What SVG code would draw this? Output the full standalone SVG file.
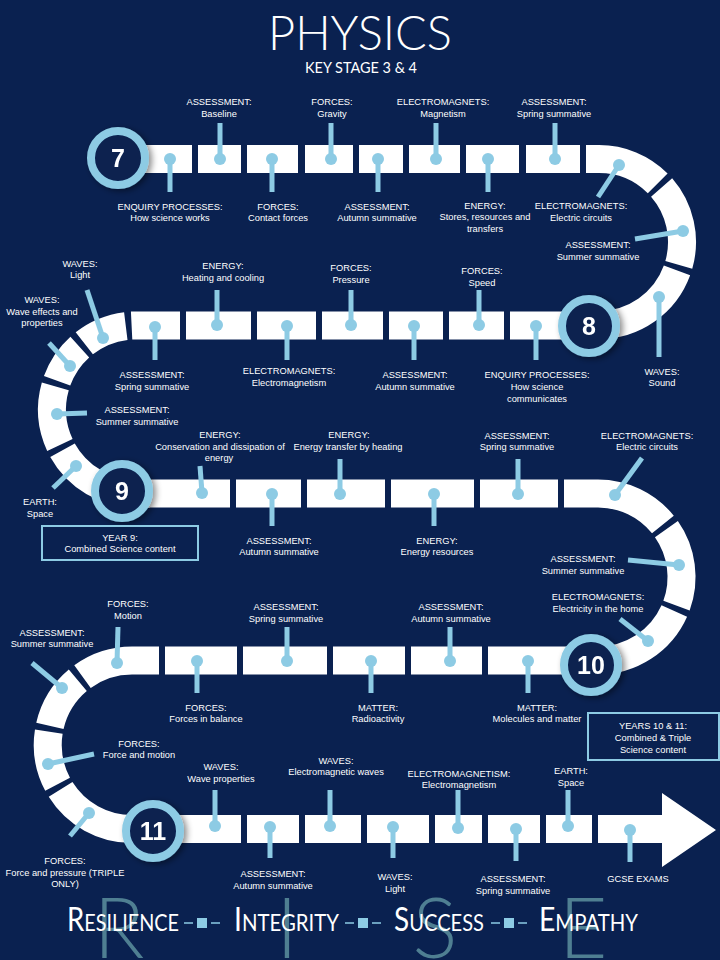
<svg xmlns="http://www.w3.org/2000/svg" width="720" height="960" viewBox="0 0 720 960">
<defs>
<filter id="sh" x="-30%" y="-30%" width="160%" height="160%"><feDropShadow dx="3" dy="2" stdDeviation="3" flood-color="#000" flood-opacity="0.45"/></filter>
<style>
.t{font-family:"Liberation Sans",Arial,sans-serif;font-size:9.3px;fill:#fff;text-anchor:middle}
.ln{stroke:#8dcbe4;stroke-width:5;fill:none}
.dt{fill:#8dcbe4}
.tr{fill:#fff}
.sg{stroke:#fff;stroke-width:28;fill:none}
.ring{fill:#0a2150;stroke:#8dcbe4;stroke-width:8}
.num{font-family:"Liberation Sans",Arial,sans-serif;font-weight:bold;font-size:25px;fill:#fff;text-anchor:middle}
.box{fill:none;stroke:#8dcbe4;stroke-width:2}
.big{font-family:Lato,"Open Sans",sans-serif;font-weight:300;font-size:84px;fill:#4f7f92;text-anchor:middle}
.mot{font-family:Lato,"Open Sans",sans-serif;font-weight:400;fill:#fff}
</style>
</defs>
<rect width="720" height="960" fill="#0a2150"/>
<text x="360" y="50" font-family="Lato,'Open Sans',sans-serif" font-weight="300" font-size="47" fill="#fff" text-anchor="middle" textLength="184" lengthAdjust="spacingAndGlyphs">PHYSICS</text>
<text x="361" y="73" font-family="Lato,'Open Sans',sans-serif" font-size="15" fill="#fff" text-anchor="middle" textLength="112" lengthAdjust="spacingAndGlyphs">KEY STAGE 3 &amp; 4</text>

<g id="connectors">
<!-- row 1 -->
<rect class="tr" x="130" y="145" width="62" height="28"/>
<rect class="tr" x="198" y="145" width="43" height="28"/>
<rect class="tr" x="247" y="145" width="51" height="28"/>
<rect class="tr" x="305" y="145" width="48" height="28"/>
<rect class="tr" x="359" y="145" width="44" height="28"/>
<rect class="tr" x="409" y="145" width="51" height="28"/>
<rect class="tr" x="466" y="145" width="53" height="28"/>
<rect class="tr" x="526" y="145" width="54" height="28"/>
<path class="sg" d="M586,159 H599 A83,83 0 0 1 657.7,183.3"/>
<path class="sg" d="M661.6,187.5 A83,83 0 0 1 678.8,264.9"/>
<path class="sg" d="M677,270.4 A83,83 0 0 1 599,325 H570"/>
<!-- row 2 -->
<rect class="tr" x="510" y="311.5" width="70" height="28"/>
<rect class="tr" x="449" y="311.5" width="55" height="28"/>
<rect class="tr" x="389" y="311.5" width="54" height="28"/>
<rect class="tr" x="322" y="311.5" width="61" height="28"/>
<rect class="tr" x="257" y="311.5" width="59" height="28"/>
<rect class="tr" x="186" y="311.5" width="65" height="28"/>
<path class="sg" d="M180,325.5 H136 A84,84 0 0 0 131.6,325.6"/>
<path class="sg" d="M125.8,326.1 A84,84 0 0 0 84.3,343.3"/>
<path class="sg" d="M79.8,347.1 A84,84 0 0 0 57.1,380.8"/>
<path class="sg" d="M55.3,386.4 A84,84 0 0 0 59.9,445"/>
<path class="sg" d="M62.5,450.2 A84,84 0 0 0 136,493.5 H150"/>
<!-- row 3 -->
<rect class="tr" x="130" y="479.5" width="100" height="28"/>
<rect class="tr" x="236" y="479.5" width="65" height="28"/>
<rect class="tr" x="307" y="479.5" width="78" height="28"/>
<rect class="tr" x="391" y="479.5" width="83" height="28"/>
<rect class="tr" x="480" y="479.5" width="78" height="28"/>
<path class="sg" d="M564,493.5 H598 A83.5,83.5 0 0 1 662.9,524.5"/>
<path class="sg" d="M666.4,529.1 A83.5,83.5 0 0 1 676.5,605.6"/>
<path class="sg" d="M674.3,611 A83.5,83.5 0 0 1 598,660.5 H580"/>
<!-- row 4 -->
<rect class="tr" x="488" y="646.5" width="100" height="28"/>
<rect class="tr" x="411" y="646.5" width="71" height="28"/>
<rect class="tr" x="333" y="646.5" width="72" height="28"/>
<rect class="tr" x="243" y="646.5" width="84" height="28"/>
<rect class="tr" x="165" y="646.5" width="72" height="28"/>
<path class="sg" d="M159,660.5 H132 A84.25,84.25 0 0 0 82.5,676.6"/>
<path class="sg" d="M77.8,680.2 A84.25,84.25 0 0 0 49.9,725.8"/>
<path class="sg" d="M48.8,731.6 A84.25,84.25 0 0 0 57.6,784.3"/>
<path class="sg" d="M60.6,789.4 A84.25,84.25 0 0 0 132,829 H241"/>
<!-- row 5 -->
<rect class="tr" x="247" y="815" width="52" height="28"/>
<rect class="tr" x="305" y="815" width="56" height="28"/>
<rect class="tr" x="367" y="815" width="62" height="28"/>
<rect class="tr" x="435" y="815" width="47" height="28"/>
<rect class="tr" x="488" y="815" width="52" height="28"/>
<rect class="tr" x="546" y="815" width="46" height="28"/>
<path class="tr" d="M598,815 H662 V793 L716,830 L662,867 V843 H598 Z"/>
</g>

<!-- year circles -->
<g id="year7" filter="url(#sh)"><circle class="ring" cx="118" cy="158" r="27"/><text class="num" x="118" y="167">7</text></g>
<g id="year8" filter="url(#sh)"><circle class="ring" cx="589" cy="326" r="27"/><text class="num" x="589" y="335">8</text></g>
<g id="year9" filter="url(#sh)"><circle class="ring" cx="122" cy="491" r="27"/><text class="num" x="122" y="500">9</text></g>
<g id="year10" filter="url(#sh)"><circle class="ring" cx="591" cy="665" r="27"/><text class="num" x="591" y="674">10</text></g>
<g id="year11" filter="url(#sh)"><circle class="ring" cx="153" cy="831" r="27"/><text class="num" x="153" y="840">11</text></g>

<!-- row 1 labels -->
<g id="r1a"><line class="ln" x1="220" y1="123" x2="220" y2="159"/><circle class="dt" cx="220" cy="159" r="6"/><text class="t" x="219" y="105">ASSESSMENT:</text><text class="t" x="219" y="117">Baseline</text></g>
<g id="r1b"><line class="ln" x1="331" y1="123" x2="331" y2="159"/><circle class="dt" cx="331" cy="159" r="6"/><text class="t" x="332" y="105">FORCES:</text><text class="t" x="332" y="117">Gravity</text></g>
<g id="r1c"><line class="ln" x1="436" y1="123" x2="436" y2="159"/><circle class="dt" cx="436" cy="159" r="6"/><text class="t" x="443" y="105">ELECTROMAGNETS:</text><text class="t" x="443" y="117">Magnetism</text></g>
<g id="r1d"><line class="ln" x1="555" y1="123" x2="555" y2="159"/><circle class="dt" cx="555" cy="159" r="6"/><text class="t" x="554" y="105">ASSESSMENT:</text><text class="t" x="554" y="117">Spring summative</text></g>
<g id="r1e"><line class="ln" x1="170" y1="159" x2="170" y2="192"/><circle class="dt" cx="170" cy="159" r="6"/><text class="t" x="170" y="210">ENQUIRY PROCESSES:</text><text class="t" x="170" y="221">How science works</text></g>
<g id="r1f"><line class="ln" x1="272" y1="159" x2="272" y2="192"/><circle class="dt" cx="272" cy="159" r="6"/><text class="t" x="278" y="210">FORCES:</text><text class="t" x="278" y="221">Contact forces</text></g>
<g id="r1g"><line class="ln" x1="378" y1="159" x2="378" y2="192"/><circle class="dt" cx="378" cy="159" r="6"/><text class="t" x="377" y="210">ASSESSMENT:</text><text class="t" x="377" y="221">Autumn summative</text></g>
<g id="r1h"><line class="ln" x1="488" y1="159" x2="488" y2="192"/><circle class="dt" cx="488" cy="159" r="6"/><text class="t" x="485" y="209">ENERGY:</text><text class="t" x="485" y="220">Stores, resources and</text><text class="t" x="485" y="232">transfers</text></g>
<g id="r1i"><line class="ln" x1="619" y1="165" x2="598" y2="197"/><circle class="dt" cx="619" cy="165" r="6"/><text class="t" x="581" y="209">ELECTROMAGNETS:</text><text class="t" x="581" y="221">Electric circuits</text></g>
<g id="r1j"><line class="ln" x1="683" y1="231" x2="635" y2="239"/><circle class="dt" cx="683" cy="231" r="6"/><text class="t" x="598" y="248">ASSESSMENT:</text><text class="t" x="598" y="260">Summer summative</text></g>

<!-- row 2 labels -->
<g id="r2a"><line class="ln" x1="659" y1="297" x2="659" y2="357"/><circle class="dt" cx="659" cy="297" r="6"/><text class="t" x="662" y="375">WAVES:</text><text class="t" x="662" y="386">Sound</text></g>
<g id="r2b"><line class="ln" x1="536" y1="326" x2="536" y2="360"/><circle class="dt" cx="536" cy="326" r="6"/><text class="t" x="537" y="378">ENQUIRY PROCESSES:</text><text class="t" x="537" y="390">How science</text><text class="t" x="537" y="402">communicates</text></g>
<g id="r2c"><line class="ln" x1="479" y1="290" x2="479" y2="325"/><circle class="dt" cx="479" cy="325" r="6"/><text class="t" x="482" y="274">FORCES:</text><text class="t" x="482" y="286">Speed</text></g>
<g id="r2d"><line class="ln" x1="414" y1="326" x2="414" y2="360"/><circle class="dt" cx="414" cy="326" r="6"/><text class="t" x="415" y="378">ASSESSMENT:</text><text class="t" x="415" y="390">Autumn summative</text></g>
<g id="r2e"><line class="ln" x1="351" y1="290" x2="351" y2="325"/><circle class="dt" cx="351" cy="325" r="6"/><text class="t" x="351" y="271">FORCES:</text><text class="t" x="351" y="283">Pressure</text></g>
<g id="r2f"><line class="ln" x1="287" y1="326" x2="287" y2="360"/><circle class="dt" cx="287" cy="326" r="6"/><text class="t" x="289" y="374">ELECTROMAGNETS:</text><text class="t" x="289" y="386">Electromagnetism</text></g>
<g id="r2g"><line class="ln" x1="217" y1="290" x2="217" y2="325"/><circle class="dt" cx="217" cy="325" r="6"/><text class="t" x="223" y="269">ENERGY:</text><text class="t" x="223" y="281">Heating and cooling</text></g>
<g id="r2h"><line class="ln" x1="155" y1="327" x2="155" y2="360"/><circle class="dt" cx="155" cy="327" r="6"/><text class="t" x="152" y="378">ASSESSMENT:</text><text class="t" x="152" y="390">Spring summative</text></g>
<g id="r2i"><line class="ln" x1="103" y1="338" x2="87" y2="290"/><circle class="dt" cx="103" cy="338" r="6"/><text class="t" x="80" y="267">WAVES:</text><text class="t" x="80" y="278">Light</text></g>
<g id="r2j"><line class="ln" x1="70" y1="366" x2="49" y2="343"/><circle class="dt" cx="70" cy="366" r="6"/><text class="t" x="42" y="303">WAVES:</text><text class="t" x="42" y="315">Wave effects and</text><text class="t" x="42" y="326">properties</text></g>
<g id="r2k"><line class="ln" x1="57" y1="414" x2="87" y2="413"/><circle class="dt" cx="57" cy="414" r="6"/><text class="t" x="137" y="413">ASSESSMENT:</text><text class="t" x="137" y="425">Summer summative</text></g>
<g id="r2l"><line class="ln" x1="76" y1="466" x2="53" y2="488"/><circle class="dt" cx="76" cy="466" r="6"/><text class="t" x="40" y="505">EARTH:</text><text class="t" x="40" y="517">Space</text></g>

<!-- row 3 labels -->
<g id="r3a"><line class="ln" x1="200" y1="466" x2="202" y2="493"/><circle class="dt" cx="202" cy="493" r="6"/><text class="t" x="220" y="438">ENERGY:</text><text class="t" x="220" y="450">Conservation and dissipation of</text><text class="t" x="219" y="461">energy</text></g>
<g id="r3b"><line class="ln" x1="272" y1="494" x2="272" y2="526"/><circle class="dt" cx="272" cy="494" r="6"/><text class="t" x="279" y="544">ASSESSMENT:</text><text class="t" x="279" y="555">Autumn summative</text></g>
<g id="r3c"><line class="ln" x1="340" y1="459" x2="340" y2="494"/><circle class="dt" cx="340" cy="494" r="6"/><text class="t" x="349" y="438">ENERGY:</text><text class="t" x="348" y="450">Energy transfer by heating</text></g>
<g id="r3d"><line class="ln" x1="434" y1="494" x2="434" y2="526"/><circle class="dt" cx="434" cy="494" r="6"/><text class="t" x="437" y="544">ENERGY:</text><text class="t" x="437" y="555">Energy resources</text></g>
<g id="r3e"><line class="ln" x1="518" y1="459" x2="518" y2="494"/><circle class="dt" cx="518" cy="494" r="6"/><text class="t" x="517" y="439">ASSESSMENT:</text><text class="t" x="517" y="450">Spring summative</text></g>
<g id="r3f"><line class="ln" x1="615" y1="495" x2="642" y2="458"/><circle class="dt" cx="615" cy="495" r="6"/><text class="t" x="647" y="439">ELECTROMAGNETS:</text><text class="t" x="647" y="450">Electric circuits</text></g>
<g id="r3g"><line class="ln" x1="679" y1="565" x2="628" y2="560"/><circle class="dt" cx="679" cy="565" r="6"/><text class="t" x="583" y="562">ASSESSMENT:</text><text class="t" x="583" y="574">Summer summative</text></g>
<g id="r3h"><line class="ln" x1="648" y1="641" x2="620" y2="619"/><circle class="dt" cx="648" cy="641" r="6"/><text class="t" x="598" y="600">ELECTROMAGNETS:</text><text class="t" x="598" y="612">Electricity in the home</text></g>

<!-- row 4 labels -->
<g id="r4a"><line class="ln" x1="528" y1="661" x2="528" y2="693"/><circle class="dt" cx="528" cy="661" r="6"/><text class="t" x="537" y="711">MATTER:</text><text class="t" x="537" y="722">Molecules and matter</text></g>
<g id="r4b"><line class="ln" x1="450" y1="627" x2="450" y2="661"/><circle class="dt" cx="450" cy="661" r="6"/><text class="t" x="451" y="610">ASSESSMENT:</text><text class="t" x="451" y="622">Autumn summative</text></g>
<g id="r4c"><line class="ln" x1="371" y1="661" x2="371" y2="693"/><circle class="dt" cx="371" cy="661" r="6"/><text class="t" x="378" y="711">MATTER:</text><text class="t" x="378" y="722">Radioactivity</text></g>
<g id="r4d"><line class="ln" x1="287" y1="627" x2="287" y2="661"/><circle class="dt" cx="287" cy="661" r="6"/><text class="t" x="286" y="610">ASSESSMENT:</text><text class="t" x="286" y="622">Spring summative</text></g>
<g id="r4e"><line class="ln" x1="197" y1="661" x2="197" y2="693"/><circle class="dt" cx="197" cy="661" r="6"/><text class="t" x="206" y="711">FORCES:</text><text class="t" x="206" y="722">Forces in balance</text></g>
<g id="r4f"><line class="ln" x1="118" y1="627" x2="117" y2="663"/><circle class="dt" cx="117" cy="663" r="6"/><text class="t" x="128" y="607">FORCES:</text><text class="t" x="128" y="619">Motion</text></g>
<g id="r4g"><line class="ln" x1="62" y1="688" x2="32" y2="663"/><circle class="dt" cx="62" cy="688" r="6"/><text class="t" x="52" y="636">ASSESSMENT:</text><text class="t" x="52" y="647">Summer summative</text></g>
<g id="r4h"><line class="ln" x1="48" y1="764" x2="94" y2="754"/><circle class="dt" cx="48" cy="764" r="6"/><text class="t" x="139" y="747">FORCES:</text><text class="t" x="139" y="758">Force and motion</text></g>

<!-- row 5 labels -->
<g id="r5a"><line class="ln" x1="89" y1="813" x2="70" y2="836"/><circle class="dt" cx="89" cy="813" r="6"/><text class="t" x="65" y="864">FORCES:</text><text class="t" x="65" y="876">Force and pressure (TRIPLE</text><text class="t" x="65" y="887">ONLY)</text></g>
<g id="r5b"><line class="ln" x1="215" y1="790" x2="215" y2="826"/><circle class="dt" cx="215" cy="826" r="6"/><text class="t" x="221" y="770">WAVES:</text><text class="t" x="221" y="782">Wave properties</text></g>
<g id="r5c"><line class="ln" x1="270" y1="827" x2="270" y2="858"/><circle class="dt" cx="270" cy="827" r="6"/><text class="t" x="273" y="877">ASSESSMENT:</text><text class="t" x="273" y="889">Autumn summative</text></g>
<g id="r5d"><line class="ln" x1="330" y1="790" x2="330" y2="826"/><circle class="dt" cx="330" cy="826" r="6"/><text class="t" x="336" y="764">WAVES:</text><text class="t" x="336" y="775">Electromagnetic waves</text></g>
<g id="r5e"><line class="ln" x1="393" y1="827" x2="393" y2="858"/><circle class="dt" cx="393" cy="827" r="6"/><text class="t" x="395" y="880">WAVES:</text><text class="t" x="395" y="892">Light</text></g>
<g id="r5f"><line class="ln" x1="458" y1="790" x2="458" y2="828"/><circle class="dt" cx="458" cy="828" r="6"/><text class="t" x="459" y="777">ELECTROMAGNETISM:</text><text class="t" x="459" y="788">Electromagnetism</text></g>
<g id="r5g"><line class="ln" x1="516" y1="829" x2="516" y2="861"/><circle class="dt" cx="516" cy="829" r="6"/><text class="t" x="513" y="882">ASSESSMENT:</text><text class="t" x="513" y="894">Spring summative</text></g>
<g id="r5h"><line class="ln" x1="568" y1="790" x2="568" y2="826"/><circle class="dt" cx="568" cy="826" r="6"/><text class="t" x="571" y="774">EARTH:</text><text class="t" x="571" y="786">Space</text></g>
<g id="r5i"><line class="ln" x1="630" y1="830" x2="630" y2="862"/><circle class="dt" cx="630" cy="830" r="6"/><text class="t" x="638" y="882">GCSE EXAMS</text></g>

<!-- info boxes -->
<g id="box9"><rect class="box" x="42" y="526" width="156" height="34"/><text class="t" x="120" y="541">YEAR 9:</text><text class="t" x="120" y="552">Combined Science content</text></g>
<g id="box1011"><rect class="box" x="588" y="713" width="131" height="47"/><text class="t" x="653" y="729">YEARS 10 &amp; 11:</text><text class="t" x="653" y="741">Combined &amp; Triple</text><text class="t" x="653" y="753">Science content</text></g>

<!-- motto -->
<g id="motto">
<text class="big" x="119" y="958">R</text>
<text class="big" x="287" y="958">I</text>
<text class="big" x="435" y="958">S</text>
<text class="big" x="583" y="958">E</text>
<text class="mot" x="67" y="931" textLength="112" lengthAdjust="spacingAndGlyphs"><tspan font-size="32">R</tspan><tspan font-size="23">ESILIENCE</tspan></text>
<text class="mot" x="234" y="931" textLength="105" lengthAdjust="spacingAndGlyphs"><tspan font-size="32">I</tspan><tspan font-size="23">NTEGRITY</tspan></text>
<text class="mot" x="394" y="931" textLength="90" lengthAdjust="spacingAndGlyphs"><tspan font-size="32">S</tspan><tspan font-size="23">UCCESS</tspan></text>
<text class="mot" x="539" y="931" textLength="99" lengthAdjust="spacingAndGlyphs"><tspan font-size="32">E</tspan><tspan font-size="23">MPATHY</tspan></text>
<g stroke="#8dcbe4" stroke-width="1.5">
<line x1="184" y1="923" x2="193" y2="923"/><line x1="211" y1="923" x2="220" y2="923"/>
<line x1="345" y1="923" x2="354" y2="923"/><line x1="372" y1="923" x2="381" y2="923"/>
<line x1="491" y1="923" x2="500" y2="923"/><line x1="518" y1="923" x2="527" y2="923"/>
</g>
<rect class="dt" x="197" y="918" width="10" height="10"/>
<rect class="dt" x="358" y="918" width="10" height="10"/>
<rect class="dt" x="504" y="918" width="10" height="10"/>
</g>
</svg>
